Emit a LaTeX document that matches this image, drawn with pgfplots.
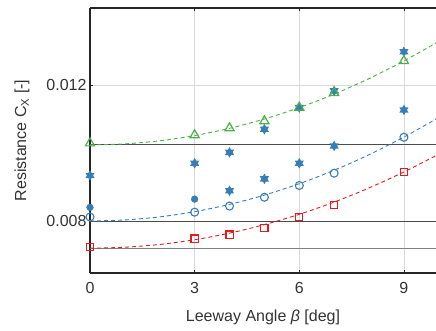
\documentclass[border=0pt]{standalone}
\usepackage{pgfplots}
\pgfplotsset{compat=1.18}
\usepackage{fontspec}
\setmainfont{Liberation Sans}
\definecolor{cblue}{HTML}{377EB8}
\definecolor{cred}{HTML}{E41A1C}
\definecolor{cgreen}{HTML}{4DAF4A}
\definecolor{spine}{HTML}{262626}
\pgfdeclareplotmark{hexagram}{%
  \pgfpathmoveto{\pgfqpointpolar{90}{\pgfplotmarksize}}%
  \pgfpathlineto{\pgfqpointpolar{210}{\pgfplotmarksize}}%
  \pgfpathlineto{\pgfqpointpolar{330}{\pgfplotmarksize}}%
  \pgfpathclose
  \pgfpathmoveto{\pgfqpointpolar{270}{\pgfplotmarksize}}%
  \pgfpathlineto{\pgfqpointpolar{30}{\pgfplotmarksize}}%
  \pgfpathlineto{\pgfqpointpolar{150}{\pgfplotmarksize}}%
  \pgfpathclose
  \pgfusepathqfill}
\begin{document}
\begin{tikzpicture}
\begin{axis}[
  scale only axis, width=346pt, height=265pt,
  xmin=0, xmax=9.92, ymin=0.00647, ymax=0.01427,
  axis x line=box, axis y line=left,
  axis line style={-, draw=spine, line width=1.1pt},
  tick align=inside, major tick length=3pt,
  tick style={draw=spine, line width=0.8pt},
  xtick={0,3,6,9}, ytick={0.008,0.012},
  scaled y ticks=false,
  yticklabel style={/pgf/number format/fixed, /pgf/number format/precision=3, /pgf/number format/fixed zerofill},
  xticklabel style={yshift=-6pt},
  /pgf/number format/assume math mode=true,
  grid=major, major grid style={draw=black!15, line width=0.8pt},
  font=\fontsize{16}{19}\selectfont,
  tick label style={font=\fontsize{16}{19}\selectfont, text=black!80},
  label style={text=black!80},
  xlabel style={yshift=-9pt},
  ylabel style={yshift=10pt},
  xlabel={Leeway Angle \textit{β} [deg]},
  ylabel={Resistance C\textsubscript{X} [-]},
  clip=false,
]
\coordinate (sw) at (rel axis cs:0,0);
\coordinate (ne) at (rel axis cs:1,1);
% reference lines
\addplot[black!70, line width=1pt] coordinates {(0,0.01024) (9.92,0.01024)};
\addplot[black!70, line width=1pt] coordinates {(0,0.008) (9.92,0.008)};
\addplot[black!50, line width=1.3pt] coordinates {(0,0.0072) (9.92,0.0072)};
% fitted curves
\addplot[cgreen, line width=0.9pt, smooth, dash pattern=on 4pt off 3pt] coordinates {
 (0,0.010240) (1,0.010271) (2,0.010362) (3,0.010515) (4,0.010728) (5,0.011003)
 (6,0.011338) (7,0.011735) (8,0.012192) (9,0.012711) (9.92,0.013241)};
\addplot[cblue, line width=0.9pt, smooth, dash pattern=on 4pt off 3pt] coordinates {
 (0,0.008000) (1,0.008031) (2,0.008122) (3,0.008275) (4,0.008488) (5,0.008763)
 (6,0.009098) (7,0.009495) (8,0.009952) (9,0.010471) (9.92,0.011001)};
\addplot[cred, line width=0.9pt, smooth, dash pattern=on 4pt off 3pt] coordinates {
 (0,0.007200) (1,0.007228) (2,0.007311) (3,0.007449) (4,0.007643) (5,0.007893)
 (6,0.008197) (7,0.008557) (8,0.008973) (9,0.009444) (9.92,0.009926)};
% blue filled stars
\addplot[only marks, mark=hexagram, mark size=5.3pt, color=cblue, fill=cblue] coordinates {
 (0,0.00934) (3,0.00970) (4,0.01002) (5,0.01070) (6,0.01134) (7,0.01183) (9,0.01298)
 (4,0.00889) (5,0.00924) (6,0.00970) (7,0.01021) (9,0.01127)};
% blue filled circles
\addplot[only marks, mark=*, mark size=3.4pt, color=cblue, fill=cblue] coordinates {
 (0,0.00840) (3,0.008645)};
% open circles
\addplot[only marks, mark=o, mark size=4pt, color=cblue, line width=1.1pt] coordinates {
 (0,0.00812) (3,0.00826) (4,0.00844) (5,0.00870) (6,0.009045) (7,0.009408) (9,0.010465)};
% squares
\addplot[only marks, mark=square, mark size=3.6pt, color=cred, line width=1.2pt] coordinates {
 (0,0.00723) (3,0.00748) (4,0.00760) (5,0.007795) (6,0.008117) (7,0.008478) (9,0.009438)};
% triangles
\addplot[only marks, mark=triangle, mark size=5.3pt, color=cgreen, line width=1.2pt] coordinates {
 (0,0.01029) (3,0.01053) (4,0.010735) (5,0.01094) (6,0.01134) (7,0.01177) (9,0.01271)};
\end{axis}
\pgfresetboundingbox
\path[use as bounding box] ([xshift=-90pt,yshift=-58pt]sw) rectangle ([yshift=8pt]ne);
\end{tikzpicture}
\end{document}
